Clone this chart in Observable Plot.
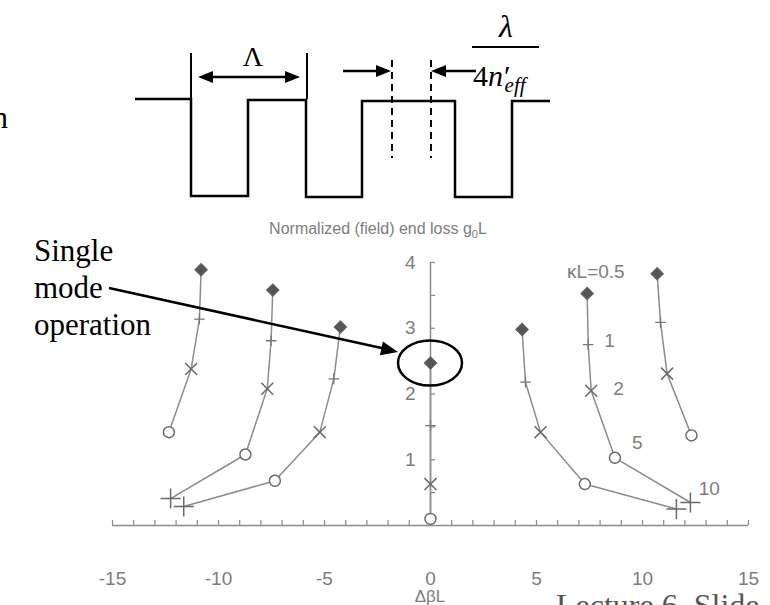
<!DOCTYPE html>
<html><head><meta charset="utf-8">
<script src="https://cdn.jsdelivr.net/npm/d3@7"></script>
<script src="https://cdn.jsdelivr.net/npm/@observablehq/plot@0.6"></script>
<style>
html,body{margin:0;padding:0;background:#fff;}
#wrap{position:relative;width:770px;height:605px;overflow:hidden;}
#wrap svg.overlay{position:absolute;left:0;top:0;pointer-events:none;}
</style></head><body><div id="wrap"></div>
<script>
// ---------- data ----------
const kappaL = [0.5, 1, 2, 5, 10];
const modes = ["L3", "L2", "L1", "C", "R1", "R2", "R3"];
const dbL_L3 = [-10.82, -10.90, -11.29, -12.34];
const gL_L3  = [3.89, 3.14, 2.38, 1.42];
const dbL_L2 = [-7.44, -7.52, -7.70, -8.73, -12.26];
const gL_L2  = [3.58, 2.81, 2.08, 1.08, 0.41];
const dbL_L1 = [-4.25, -4.56, -5.22, -7.34, -11.64];
const gL_L1  = [3.02, 2.23, 1.42, 0.68, 0.29];
const dbL_C  = [0, 0, 0, 0];
const gL_C   = [2.47, 1.52, 0.63, 0.10];
const dbL_R1 = [4.32, 4.48, 5.19, 7.28, 11.60];
const gL_R1  = [2.98, 2.18, 1.42, 0.63, 0.25];
const dbL_R2 = [7.39, 7.44, 7.58, 8.70, 12.26];
const gL_R2  = [3.53, 2.75, 2.05, 1.03, 0.35];
const dbL_R3 = [10.69, 10.85, 11.16, 12.31];
const gL_R3  = [3.83, 3.09, 2.31, 1.37];

const xTickLabels = [-15, -10, -5, 0, 5, 10, 15];
const xMinorTicks = d3.range(-15, 16, 1);
const yTickLabels = [1, 2, 3, 4];
const yMinorTicks = d3.range(0.5, 4.01, 0.5);

const curveLabels = ["\u03baL=0.5", "1", "2", "5", "10"];
const curveLabelX = [7.8, 8.45, 8.87, 9.75, 13.15];
const curveLabelY = [3.85, 2.81, 2.08, 1.25, 0.56];

// ---------- build rows ----------
const seriesX = {L3: dbL_L3, L2: dbL_L2, L1: dbL_L1, C: dbL_C, R1: dbL_R1, R2: dbL_R2, R3: dbL_R3};
const seriesY = {L3: gL_L3, L2: gL_L2, L1: gL_L1, C: gL_C, R1: gL_R1, R2: gL_R2, R3: gL_R3};
const rows = [];
for (const m of modes) seriesX[m].forEach((x, i) => rows.push({mode: m, k: kappaL[i], x, y: seriesY[m][i]}));
const labels = curveLabels.map((t, i) => ({t, x: curveLabelX[i], y: curveLabelY[i]}));

const W = 770, H = 605, ML = 112, MR = 22, MT = 262, MB = 80;
const xDom = [-15, 15];
const yAxisDx = (0 - xDom[0]) / (xDom[1] - xDom[0]) * (W - ML - MR);
const grey = "#7d7d7d";
const sans = "'Liberation Sans', Arial, Helvetica, sans-serif";

const chart = Plot.plot({
  width: W, height: H,
  marginLeft: ML, marginRight: MR, marginTop: MT, marginBottom: MB,
  x: {domain: xDom},
  y: {domain: [0, 4]},
  style: {fontFamily: sans, background: "transparent", overflow: "visible"},
  marks: [
    Plot.ruleY([0], {stroke: "#8a8a8a", strokeWidth: 1.5}),
    Plot.ruleX([0], {stroke: "#8a8a8a", strokeWidth: 1.5}),
    Plot.axisX(xMinorTicks, {tickSize: 5, dy: -5, tickFormat: () => "", label: null, stroke: "#8a8a8a", strokeWidth: 1.2}),
    Plot.axisX(xTickLabels, {tickSize: 0, tickPadding: 46, label: null, fontSize: 19, fill: grey, tickFormat: d => String(d)}),
    Plot.axisY(yMinorTicks, {anchor: "left", tickSize: 5, dx: yAxisDx + 5, tickFormat: () => "", label: null, stroke: "#8a8a8a", strokeWidth: 1.2}),
    Plot.axisY(yTickLabels, {anchor: "left", tickSize: 0, tickPadding: 15, dx: yAxisDx, label: null, fontSize: 19, fill: grey, tickFormat: d => String(d)}),
    Plot.line(rows, {x: "x", y: "y", z: "mode", stroke: "#8c8c8c", strokeWidth: 1.5}),
    Plot.dot(rows.filter(d => d.k === 0.5), {x: "x", y: "y", symbol: "square", rotate: 45, r: 5, fill: "#555", stroke: "#666", strokeWidth: 1}),
    Plot.dot(rows.filter(d => d.k === 1), {x: "x", y: "y", symbol: "plus", r: 3.5, stroke: "#777", strokeWidth: 1.3}),
    Plot.dot(rows.filter(d => d.k === 2), {x: "x", y: "y", symbol: "times", r: 5.5, stroke: "#6a6a6a", strokeWidth: 1.5}),
    Plot.dot(rows.filter(d => d.k === 5), {x: "x", y: "y", symbol: "circle", r: 5.5, fill: "white", stroke: "#6a6a6a", strokeWidth: 1.5}),
    Plot.dot(rows.filter(d => d.k === 10), {x: "x", y: "y", symbol: "plus", r: 6.5, stroke: "#6a6a6a", strokeWidth: 1.5}),
    Plot.text(labels, {x: "x", y: "y", text: "t", fontSize: 19, fill: grey})
  ]
});
const wrap = document.getElementById("wrap");
wrap.appendChild(chart);

// ---------- overlay: grating sketch and annotations ----------
const svg = d3.select(wrap).append("svg").attr("class", "overlay")
  .attr("width", W).attr("height", H).attr("viewBox", `0 0 ${W} ${H}`);
const serif = "'Liberation Serif', 'Times New Roman', Times, serif";

function line(x1, y1, x2, y2, w = 2.5, dash = null) {
  const l = svg.append("line").attr("x1", x1).attr("y1", y1).attr("x2", x2).attr("y2", y2)
    .attr("stroke", "#000").attr("stroke-width", w);
  if (dash) l.attr("stroke-dasharray", dash);
  return l;
}
function head(tx, ty, fx, fy, len = 15, hw = 6) {
  const dx = tx - fx, dy = ty - fy, n = Math.hypot(dx, dy), ux = dx / n, uy = dy / n;
  const bx = tx - ux * len, by = ty - uy * len;
  svg.append("path").attr("d", `M${tx},${ty}L${bx - uy * hw},${by + ux * hw}L${bx + uy * hw},${by - ux * hw}Z`).attr("fill", "#000");
}

// square wave
svg.append("path").attr("d", "M135,99H191V196H248V100H306V197H362V101H455V197H512V101H550")
  .attr("fill", "none").attr("stroke", "#000").attr("stroke-width", 2.5);
// period markers
line(191, 53, 191, 99, 2);
line(307, 53, 307, 99, 2);
line(205, 77, 293, 77, 2.5);
head(198, 77, 300, 77); head(300, 77, 198, 77);
svg.append("text").attr("x", 253).attr("y", 66).attr("text-anchor", "middle")
  .attr("font-family", serif).attr("font-size", 28).text("\u039b");
// dashed quarter-wave lines
line(392, 60, 392, 158, 2, "7,5");
line(431, 60, 431, 158, 2, "7,5");
line(343, 71, 380, 71, 2.5); head(391, 71, 343, 71);
line(442, 71, 476, 71, 2.5); head(431, 71, 476, 71);
// lambda / 4n'eff
svg.append("text").attr("x", 506).attr("y", 37).attr("text-anchor", "middle")
  .attr("font-family", serif).attr("font-style", "italic").attr("font-size", 32).text("\u03bb");
line(472, 47, 539, 47, 2);
const frac = svg.append("text").attr("x", 473).attr("y", 86).attr("font-family", serif).attr("font-size", 30);
frac.append("tspan").text("4");
frac.append("tspan").attr("font-style", "italic").text("n");
frac.append("tspan").attr("dx", 1).text("\u2032");
frac.append("tspan").attr("font-style", "italic").attr("font-size", 21).attr("dx", -6).attr("dy", 6).text("eff");

// Single mode operation
[["Single", 261], ["mode", 298], ["operation", 335]].forEach(([t, y]) =>
  svg.append("text").attr("x", 34).attr("y", y).attr("font-family", serif).attr("font-size", 31).text(t));
svg.append("text").attr("x", 8).attr("y", 128).attr("text-anchor", "end")
  .attr("font-family", serif).attr("font-size", 31).text("n");
line(109, 288, 386, 349, 2.5);
head(398, 352, 109, 288, 17, 7);
svg.append("ellipse").attr("cx", 430).attr("cy", 363).attr("rx", 32).attr("ry", 22.5)
  .attr("fill", "none").attr("stroke", "#000").attr("stroke-width", 2.5);

// chart title and axis label
const ttl = svg.append("text").attr("x", 378).attr("y", 234).attr("text-anchor", "middle")
  .attr("font-family", sans).attr("font-size", 16).attr("fill", grey);
ttl.append("tspan").text("Normalized (field) end loss g");
ttl.append("tspan").attr("font-size", 11).attr("dy", 4).text("0");
ttl.append("tspan").attr("dy", -4).text("L");
svg.append("text").attr("x", 430).attr("y", 602).attr("text-anchor", "middle")
  .attr("font-family", sans).attr("font-size", 17).attr("fill", grey).text("\u0394\u03b2L");
svg.append("text").attr("x", 556).attr("y", 616)
  .attr("font-family", serif).attr("font-size", 32).attr("fill", "#555").text("Lecture 6, Slide");
</script></body></html>
